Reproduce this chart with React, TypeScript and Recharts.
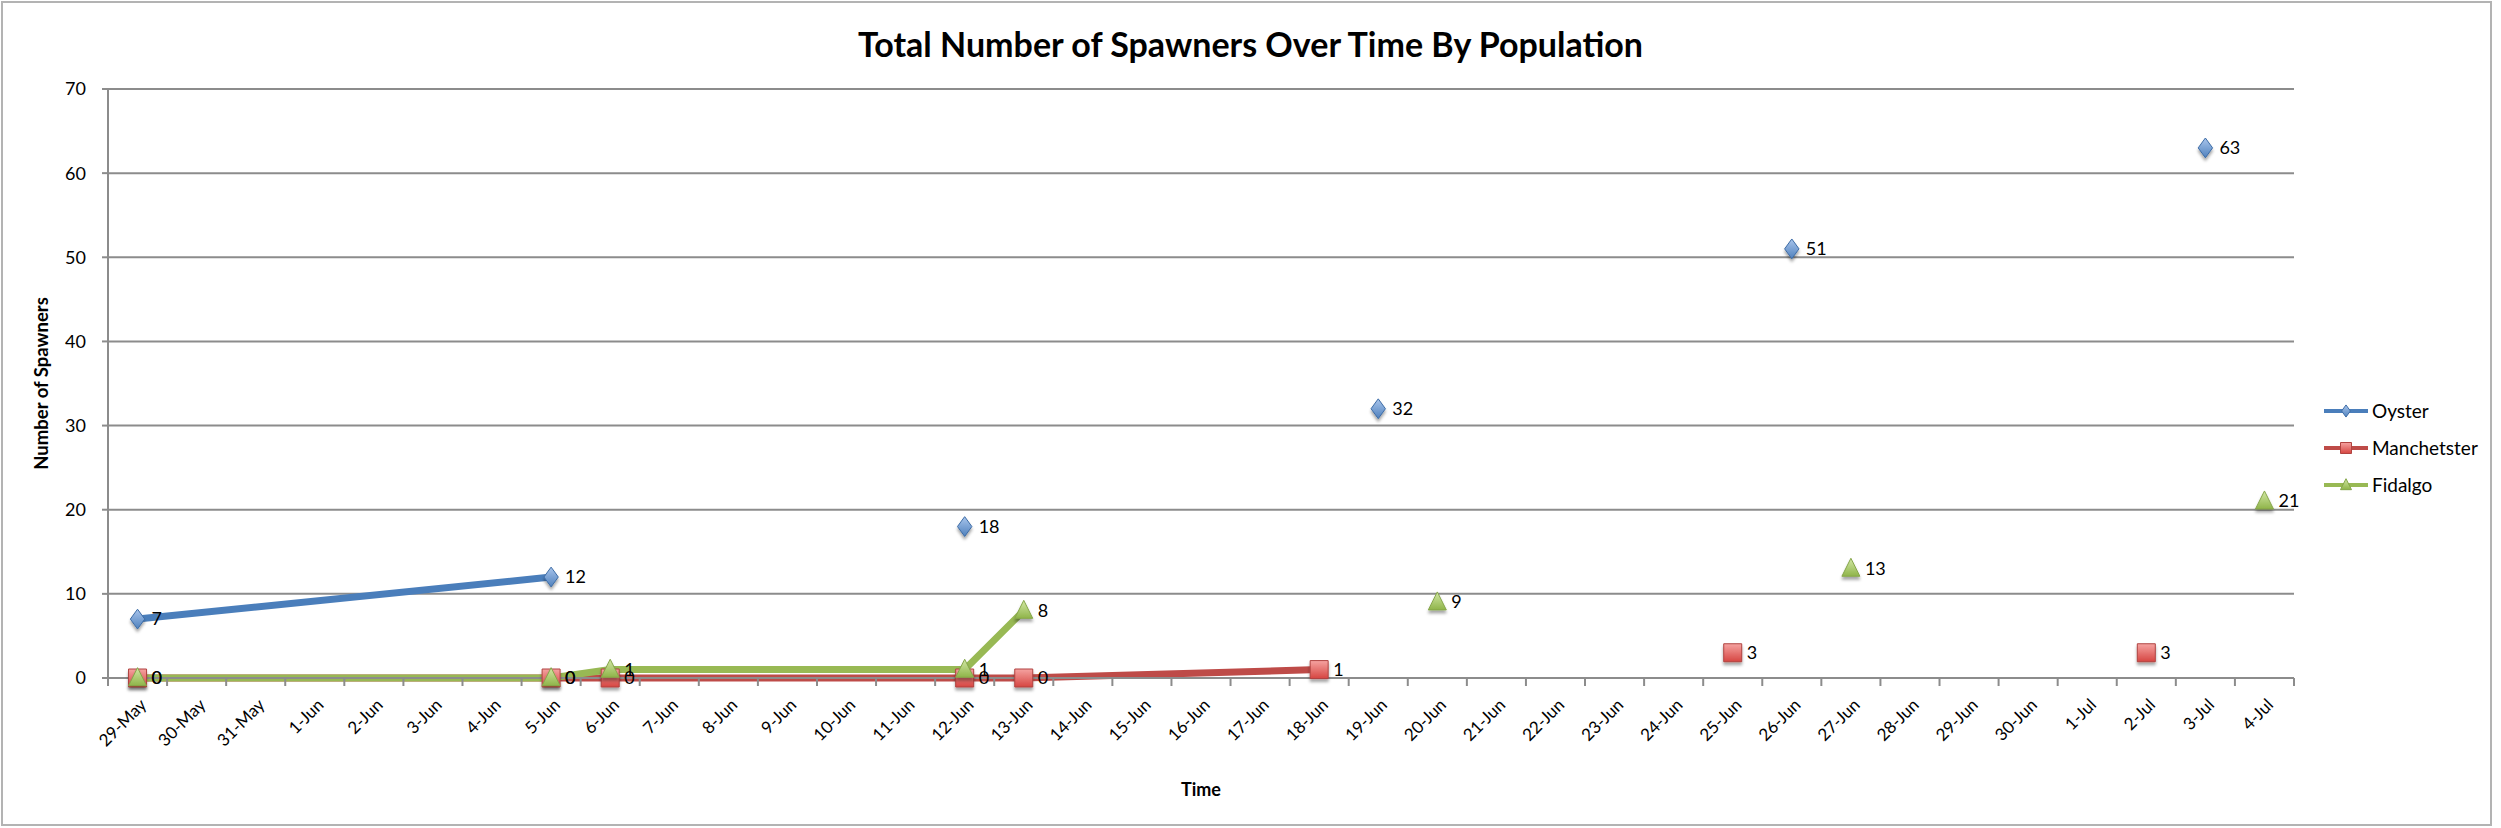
import { CartesianGrid, LabelList, Line, LineChart, XAxis, YAxis } from "recharts"

// every day shown on the date axis
const dayLabels = [
  '29-May', '30-May', '31-May', '1-Jun', '2-Jun', '3-Jun', '4-Jun', '5-Jun', '6-Jun', '7-Jun',
  '8-Jun', '9-Jun', '10-Jun', '11-Jun', '12-Jun', '13-Jun', '14-Jun', '15-Jun', '16-Jun', '17-Jun',
  '18-Jun', '19-Jun', '20-Jun', '21-Jun', '22-Jun', '23-Jun', '24-Jun', '25-Jun', '26-Jun', '27-Jun',
  '28-Jun', '29-Jun', '30-Jun', '1-Jul', '2-Jul', '3-Jul', '4-Jul',
]

// dates that have a row in the sheet
const sampleDates = ['29-May', '5-Jun', '6-Jun', '12-Jun', '13-Jun', '18-Jun', '19-Jun', '20-Jun', '25-Jun', '26-Jun', '27-Jun', '2-Jul', '3-Jul', '4-Jul']
const oyster = [7, 12, null, 18, null, null, 32, null, null, 51, null, null, 63, null]
const manchetster = [0, 0, 0, 0, 0, 1, null, null, 3, null, null, 3, null, null]
const fidalgo = [0, 0, 1, 1, 8, null, null, 9, null, null, 13, null, null, 21]

const yTicks = [0, 10, 20, 30, 40, 50, 60, 70]

const data = sampleDates.map((d, i) => ({
  day: dayLabels.indexOf(d) + 0.5,
  Oyster: oyster[i],
  Manchetster: manchetster[i],
  Fidalgo: fidalgo[i],
}))

const FONT = "Lato, 'Open Sans', sans-serif"
const W = 2501
const H = 828
const MARGIN = { top: 89, right: 207, bottom: 40, left: 0 }
const Y_W = 108
const X_H = 110
const BAND = (W - MARGIN.left - MARGIN.right - Y_W) / dayLabels.length

const series = [
  { key: 'Oyster', line: '#4a7ebb', stroke: '#3d6ca6', grad: 'gBlue', shape: 'diamond' },
  { key: 'Manchetster', line: '#be4b48', stroke: '#b04340', grad: 'gRed', shape: 'square' },
  { key: 'Fidalgo', line: '#98b954', stroke: '#86a64a', grad: 'gGreen', shape: 'triangle' },
]

const markerPath = (shape: string, cx: number, cy: number, s: number) => {
  if (shape === 'diamond') return `M${cx},${cy - s * 1.1} L${cx + s * 0.8},${cy} L${cx},${cy + s * 1.1} L${cx - s * 0.8},${cy} Z`
  if (shape === 'square') return `M${cx - s},${cy - s} L${cx + s},${cy - s} L${cx + s},${cy + s} L${cx - s},${cy + s} Z`
  return `M${cx},${cy - s * 1.15} L${cx + s},${cy + s * 0.85} L${cx - s},${cy + s * 0.85} Z`
}

const makeDot = (shape: string, grad: string, stroke: string) => (props: any) => {
  const { cx, cy, value, index } = props
  if (cx == null || cy == null || value == null) return <g key={index} />
  return (
    <path key={index} d={markerPath(shape, cx, cy, 9)} fill={`url(#${grad})`} stroke={stroke}
      strokeWidth={1} filter="url(#shadow)" />
  )
}

const DayTick = (props: any) => {
  const { x, y, payload } = props
  const i = payload.value
  if (i >= dayLabels.length) return <g />
  return (
    <text x={0} y={0} transform={`translate(${x + BAND / 2 + 10},${y + 18}) rotate(-45)`}
      textAnchor="end" fontSize={17} fontFamily={FONT} fill="#000">
      {dayLabels[i]}
    </text>
  )
}

const ValueLabel = (props: any) => {
  const { x, y, width, height, value } = props
  if (value == null) return null
  return (
    <text x={x + (width || 0) + 14} y={y + (height || 0) / 2 + 6} fontSize={18} fontFamily={FONT} fill="#000">
      {value}
    </text>
  )
}

const LegendBox = () => (
  <div style={{ position: 'absolute', left: 2324, top: 392, fontFamily: FONT, fontSize: 19, color: '#000' }}>
    {series.map(s => (
      <div key={s.key} style={{ display: 'flex', alignItems: 'center', height: 37 }}>
        <svg width={46} height={20}>
          <line x1={0} y1={10} x2={44} y2={10} stroke={s.line} strokeWidth={4} />
          <path d={markerPath(s.shape, 22, 10, 5.5)} fill={`url(#${s.grad})`} stroke={s.stroke} strokeWidth={1} />
        </svg>
        <span style={{ marginLeft: 2 }}>{s.key}</span>
      </div>
    ))}
  </div>
)

export default function App() {
  return (
    <div style={{ position: 'absolute', left: 0, top: 0, width: W, height: H, background: '#fff' }}>
      <div style={{
        position: 'absolute', left: 1, top: 1, width: 2491, height: 825,
        border: '2px solid #b3b3b3', boxSizing: 'border-box',
      }} />
      <div style={{
        position: 'absolute', left: 0, top: 23, width: W, textAlign: 'center',
        fontFamily: FONT, fontWeight: 700, fontSize: 34, color: '#000',
      }}>
        Total Number of Spawners Over Time By Population
      </div>
      <LineChart width={W} height={H} data={data} margin={MARGIN}>
        <defs>
          <linearGradient id="gBlue" x1="0" y1="0" x2="0" y2="1">
            <stop offset="0%" stopColor="#a9c5ec" />
            <stop offset="100%" stopColor="#4f81bd" />
          </linearGradient>
          <linearGradient id="gRed" x1="0" y1="0" x2="0" y2="1">
            <stop offset="0%" stopColor="#f5a3a1" />
            <stop offset="100%" stopColor="#d64541" />
          </linearGradient>
          <linearGradient id="gGreen" x1="0" y1="0" x2="0" y2="1">
            <stop offset="0%" stopColor="#d3e8a6" />
            <stop offset="100%" stopColor="#8fb449" />
          </linearGradient>
          <filter id="shadow" x="-50%" y="-50%" width="200%" height="200%">
            <feDropShadow dx="0" dy="3" stdDeviation="1.5" floodColor="#000" floodOpacity="0.35" />
          </filter>
        </defs>
        <CartesianGrid vertical={false} stroke="#8c8c8c" strokeWidth={2} />
        <XAxis
          dataKey="day"
          type="number"
          domain={[0, dayLabels.length]}
          ticks={dayLabels.map((_, i) => i).concat([dayLabels.length])}
          interval={0}
          height={X_H}
          tick={<DayTick />}
          tickSize={8}
          axisLine={{ stroke: '#8c8c8c', strokeWidth: 2 }}
          tickLine={{ stroke: '#8c8c8c', strokeWidth: 2 }}
          label={(p: any) => {
            const vb = p.viewBox
            return (
              <text x={vb.x + vb.width / 2} y={vb.y + 118} textAnchor="middle" fontSize={18}
                fontWeight={700} fontFamily={FONT} fill="#000">Time</text>
            )
          }}
        />
        <YAxis
          domain={[0, 70]}
          ticks={yTicks}
          width={Y_W}
          tickSize={6}
          tickMargin={16}
          tick={{ fontSize: 18, fontFamily: FONT, fill: '#000' }}
          axisLine={{ stroke: '#8c8c8c', strokeWidth: 2 }}
          tickLine={{ stroke: '#8c8c8c', strokeWidth: 2 }}
          label={(p: any) => {
            const vb = p.viewBox
            const cy = vb.y + vb.height / 2
            return (
              <text x={0} y={0} transform={`translate(48,${cy}) rotate(-90)`} textAnchor="middle"
                fontSize={18.5} fontWeight={700} fontFamily={FONT} fill="#000">Number of Spawners</text>
            )
          }}
        />
        {series.map(s => (
          <Line key={s.key} dataKey={s.key} type="linear" stroke={s.line} strokeWidth={7}
            connectNulls={false} isAnimationActive={false}
            dot={makeDot(s.shape, s.grad, s.stroke)} activeDot={false} legendType="line">
            <LabelList dataKey={s.key} content={<ValueLabel />} />
          </Line>
        ))}
      </LineChart>
      <LegendBox />
    </div>
  )
}
